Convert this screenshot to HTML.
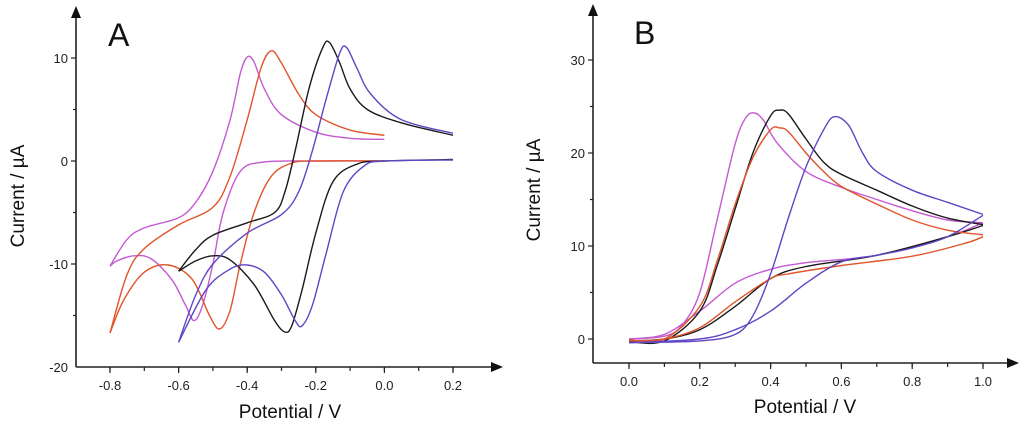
<!DOCTYPE html>
<html><head><meta charset="utf-8">
<style>
html,body{margin:0;padding:0;background:#fff;}
svg{display:block;font-family:"Liberation Sans",sans-serif;}
</style></head>
<body>
<svg id="fig" width="1024" height="427" viewBox="0 0 1024 427"></svg>
<script>
// ---- Panel A data ----
const aXTicks = [-0.8,-0.6,-0.4,-0.2,0.0,0.2];
const aXLabels = ["-0.8","-0.6","-0.4","-0.2","0.0","0.2"];
const aYTicks = [-20,-10,0,10];
const aYLabels = ["-20","-10","0","10"];
const aMagentaUp = [[-0.8,-10.2],[-0.75,-7.6],[-0.7,-6.5],[-0.6,-5.5],[-0.55,-4],[-0.5,-1],[-0.45,4],[-0.42,8.5],[-0.40,10.1],[-0.38,9.6],[-0.35,7],[-0.3,4.5],[-0.2,2.8],[-0.1,2.2],[0,2.1]];
const aMagentaDn = [[0,0],[-0.2,0],[-0.35,-0.1],[-0.42,-1],[-0.47,-5],[-0.5,-10],[-0.53,-14],[-0.555,-15.5],[-0.58,-14],[-0.62,-11.5],[-0.68,-9.5],[-0.73,-9.2],[-0.78,-9.7],[-0.8,-10.2]];
const aOrangeUp = [[-0.8,-16.7],[-0.75,-11],[-0.7,-8.5],[-0.6,-6.2],[-0.5,-4.5],[-0.45,-1.5],[-0.4,4],[-0.36,9],[-0.33,10.7],[-0.3,9.5],[-0.25,6.5],[-0.2,4.5],[-0.1,3],[0,2.5]];
const aOrangeDn = [[0,0],[-0.2,0],[-0.27,-0.2],[-0.33,-1.5],[-0.38,-5],[-0.42,-10],[-0.45,-14.5],[-0.48,-16.3],[-0.51,-15],[-0.56,-11.5],[-0.63,-10.1],[-0.7,-10.8],[-0.76,-13.5],[-0.8,-16.7]];
const aBlackUp = [[-0.6,-10.7],[-0.55,-8.6],[-0.5,-7.2],[-0.4,-6],[-0.32,-5],[-0.29,-3],[-0.26,1],[-0.22,7],[-0.18,11],[-0.16,11.5],[-0.13,9.5],[-0.1,7],[-0.05,5],[0.05,3.7],[0.2,2.5]];
const aBlackDn = [[0.2,0.15],[0.0,0],[-0.08,-0.3],[-0.15,-2],[-0.2,-7],[-0.24,-12.5],[-0.27,-16],[-0.29,-16.6],[-0.32,-15.5],[-0.38,-12],[-0.45,-9.6],[-0.5,-9.2],[-0.55,-9.7],[-0.6,-10.7]];
const aIndigoUp = [[-0.6,-17.6],[-0.55,-13],[-0.5,-10],[-0.4,-7],[-0.3,-5.2],[-0.25,-3],[-0.21,1],[-0.17,6],[-0.13,10.5],[-0.11,11],[-0.08,9],[-0.04,6.5],[0.05,4],[0.2,2.7]];
const aIndigoDn = [[0.2,0.1],[0.0,0],[-0.06,-0.5],[-0.12,-3],[-0.17,-9],[-0.21,-14],[-0.24,-16],[-0.26,-15.5],[-0.3,-13],[-0.35,-10.8],[-0.4,-10.1],[-0.45,-10.5],[-0.52,-12.5],[-0.6,-17.6]];
// ---- Panel B data ----
const bXTicks = [0.0,0.2,0.4,0.6,0.8,1.0];
const bXLabels = ["0.0","0.2","0.4","0.6","0.8","1.0"];
const bYTicks = [0,10,20,30];
const bYLabels = ["0","10","20","30"];
const bMagentaUp = [[0,0],[0.1,0.3],[0.15,1.5],[0.2,5],[0.25,13],[0.3,21],[0.33,23.8],[0.355,24.3],[0.38,23.5],[0.42,21],[0.5,18],[0.6,16.3],[0.7,15],[0.8,13.8],[0.9,12.8],[1.0,12.5]];
const bMagentaDn = [[1.0,12.5],[0.9,11],[0.7,9],[0.5,8.2],[0.4,7.5],[0.3,6],[0.2,3],[0.1,0.5],[0,0]];
const bBlackUp = [[0,-0.3],[0.1,-0.2],[0.2,3],[0.25,8],[0.3,14],[0.35,20],[0.4,24],[0.425,24.6],[0.45,24.2],[0.5,21.5],[0.55,19],[0.6,17.7],[0.7,16],[0.8,14.3],[0.9,13],[1.0,12.3]];
const bBlackDn = [[1.0,12.2],[0.9,11],[0.7,9],[0.5,7.8],[0.4,6.5],[0.3,3.5],[0.2,1],[0.1,0],[0,-0.2]];
const bOrangeUp = [[0,-0.1],[0.1,0],[0.2,3.5],[0.25,8.5],[0.3,14.5],[0.35,19.5],[0.4,22.5],[0.425,22.7],[0.45,22.3],[0.5,20],[0.55,18],[0.6,16.4],[0.7,14.5],[0.8,12.8],[0.9,11.7],[1.0,11.2]];
const bOrangeDn = [[1.0,11.0],[0.95,10.3],[0.8,8.9],[0.6,7.9],[0.45,7],[0.4,6.5],[0.3,4],[0.2,1.2],[0.1,0],[0,-0.2]];
const bIndigoUp = [[0,-0.4],[0.2,-0.2],[0.3,0.5],[0.35,2.5],[0.4,7],[0.45,13],[0.5,18.5],[0.55,22.5],[0.58,23.9],[0.62,23],[0.66,20],[0.7,18],[0.8,16],[0.9,14.7],[1.0,13.4]];
const bIndigoDn = [[1.0,13.3],[0.9,11],[0.8,9.8],[0.7,9],[0.6,8.3],[0.5,6],[0.4,3],[0.3,1],[0.2,0],[0.0,-0.4]];

const NS="http://www.w3.org/2000/svg";
const svg=document.getElementById('fig');
function el(tag,attrs,parent){const e=document.createElementNS(NS,tag);for(const k in attrs)e.setAttribute(k,attrs[k]);(parent||svg).appendChild(e);return e;}
function smooth(pts){
  let d="M"+pts[0][0].toFixed(1)+","+pts[0][1].toFixed(1);
  for(let i=0;i<pts.length-1;i++){
    const p0=pts[Math.max(i-1,0)],p1=pts[i],p2=pts[i+1],p3=pts[Math.min(i+2,pts.length-1)];
    const c1=[p1[0]+(p2[0]-p0[0])/6,p1[1]+(p2[1]-p0[1])/6];
    const c2=[p2[0]-(p3[0]-p1[0])/6,p2[1]-(p3[1]-p1[1])/6];
    d+=" C"+c1.map(v=>v.toFixed(1))+" "+c2.map(v=>v.toFixed(1))+" "+p2.map(v=>v.toFixed(1));
  }
  return d;
}
function panel(cfg){
  const g=el('g',{});
  
  
  const sx=v=>cfg.x0px+(v-cfg.x0)*cfg.xs;
  const sy=v=>cfg.y0px-(v-cfg.y0)*cfg.ys;
  const ax=cfg.axisX, ay=cfg.axisY;
  const yAxis=el('path',{d:`M${ax},${ay} L${ax},${cfg.yTop+8}`,stroke:'#222','stroke-width':1.6,fill:'none'},g);
  
  
  el('path',{d:`M${ax-5},${cfg.yTop+12} L${ax},${cfg.yTop} L${ax+5},${cfg.yTop+12} Z`,fill:'#111'},g);
  const xAxis=el('path',{d:`M${ax},${ay} L${cfg.xRight-8},${ay}`,stroke:'#222','stroke-width':1.6,fill:'none'},g);
  
  
  el('path',{d:`M${cfg.xRight-12},${ay-5} L${cfg.xRight},${ay} L${cfg.xRight-12},${ay+5} Z`,fill:'#111'},g);
  // minor ticks
  const xm=cfg.xTicks[1]-cfg.xTicks[0];
  for(let v=cfg.xTicks[0]-xm; v<=cfg.xTicks[cfg.xTicks.length-1]+1e-9; v+=xm/2){
    const px=sx(v); if(px<ax+2) continue;
    el('line',{x1:px,y1:ay,x2:px,y2:ay+4,stroke:'#222','stroke-width':1.2},g);
  }
  const ym=cfg.yTicks[1]-cfg.yTicks[0];
  for(let v=cfg.yTicks[0]; v<=cfg.yTicks[cfg.yTicks.length-1]+1e-9; v+=ym/2){
    const py=sy(v); if(py>ay-1) continue;
    el('line',{x1:ax-(Math.abs(v/ym-Math.round(v/ym))<1e-6?5:3),y1:py,x2:ax,y2:py,stroke:'#222','stroke-width':1.2},g);
  }
  cfg.xTicks.forEach((v,i)=>{
    el('line',{x1:sx(v),y1:ay,x2:sx(v),y2:ay+6,stroke:'#222','stroke-width':1.2},g);
    const t=el('text',{x:sx(v),y:ay+23,'text-anchor':'middle','font-size':13,fill:'#222'},g);
    t.textContent=cfg.xLabels[i];
    
    
  });
  cfg.yTicks.forEach((v,i)=>{
    const t=el('text',{x:ax-8,y:sy(v)+5,'text-anchor':'end','font-size':13,fill:'#222'},g);
    t.textContent=cfg.yLabels[i];
    
    
  });
  cfg.series.forEach(s=>{
    s.data.forEach(br=>{
      const p=el('path',{d:smooth(br.map(q=>[sx(q[0]),sy(q[1])])),stroke:s.color,'stroke-width':1.4,fill:'none'},g);
      
      
    });
  });
  const lab=el('text',{x:cfg.labX,y:cfg.labY,'font-size':32,fill:'#111'},g);
  lab.textContent=cfg.letter;
  
  
  const yt=el('text',{x:0,y:0,'font-size':19,fill:'#111','text-anchor':'middle',transform:`translate(${cfg.ytX},${cfg.ytY}) rotate(-90)`},g);
  yt.textContent='Current / µA';
  
  
  const xt=el('text',{x:cfg.xtX,y:cfg.xtY,'font-size':19,fill:'#111','text-anchor':'middle'},g);
  xt.textContent='Potential / V';
  
  
}
panel({name:'panel-a',letter:'A',x0:-0.8,x0px:110,xs:343,y0:0,y0px:161,ys:10.3,axisX:76,axisY:367,yTop:6,xRight:503,
  xTicks:aXTicks,xLabels:aXLabels,yTicks:aYTicks,yLabels:aYLabels,labX:108,labY:46,ytX:24,ytY:196,xtX:290,xtY:418,
  series:[{name:'magenta-cv-curve',color:'#c45ad2',data:[aMagentaUp,aMagentaDn]},
          {name:'orange-cv-curve',color:'#e0552a',data:[aOrangeUp,aOrangeDn]},
          {name:'black-cv-curve',color:'#1a1a1a',data:[aBlackUp,aBlackDn]},
          {name:'indigo-cv-curve',color:'#6046c4',data:[aIndigoUp,aIndigoDn]}]});
panel({name:'panel-b',letter:'B',x0:0,x0px:629,xs:354,y0:0,y0px:339,ys:9.3,axisX:593,axisY:363,yTop:4,xRight:1019,
  xTicks:bXTicks,xLabels:bXLabels,yTicks:bYTicks,yLabels:bYLabels,labX:634,labY:44,ytX:540,ytY:190,xtX:805,xtY:413,
  series:[{name:'magenta-cv-curve',color:'#c45ad2',data:[bMagentaUp,bMagentaDn]},
          {name:'black-cv-curve',color:'#1a1a1a',data:[bBlackUp,bBlackDn]},
          {name:'orange-cv-curve',color:'#e0552a',data:[bOrangeUp,bOrangeDn]},
          {name:'indigo-cv-curve',color:'#6046c4',data:[bIndigoUp,bIndigoDn]}]});
</script>
</body></html>
